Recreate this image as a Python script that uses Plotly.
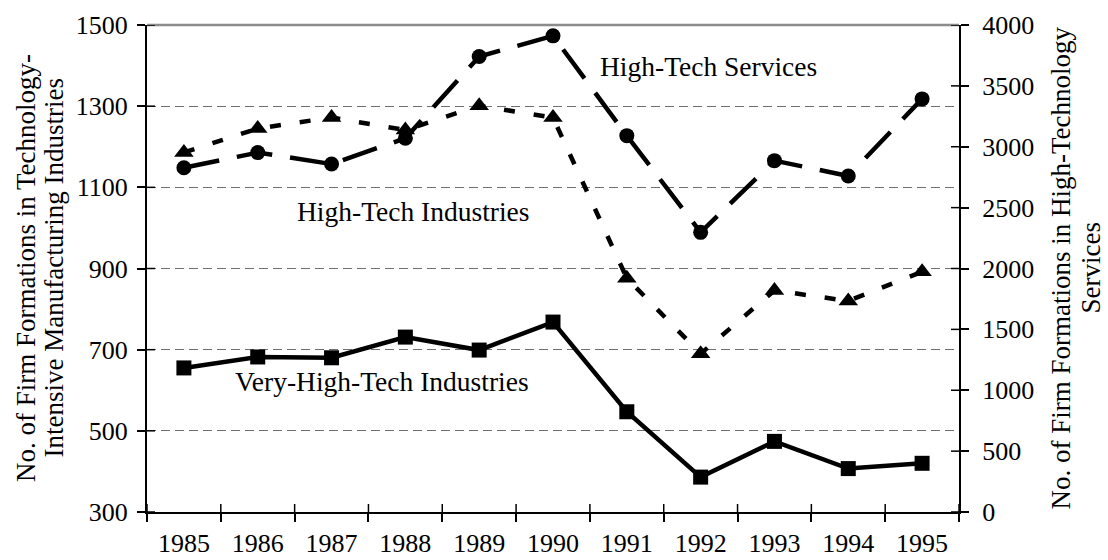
import plotly.graph_objects as go

years = ["1985", "1986", "1987", "1988", "1989", "1990", "1991", "1992", "1993", "1994", "1995"]
very_high_tech = [655, 682, 680, 731, 699, 768, 547, 386, 474, 407, 420]
high_tech_industries = [1186, 1245, 1272, 1241, 1301, 1272, 876, 690, 846, 820, 892]
high_tech_services = [2828, 2952, 2858, 3070, 3741, 3911, 3091, 2297, 2886, 2760, 3393]

left_range = [300, 1500]
left_step = 200
right_range = [0, 4000]
right_step = 500

FONT = "Liberation Serif"
FS = 27.5   # in-plot labels
KFS = 26    # tick labels
TFS = 27    # axis titles
PLOT_W, PLOT_H = 812, 487
TICK = 8

fig = go.Figure()

fig.add_trace(go.Scatter(
    x=years, y=very_high_tech, name="Very-High-Tech Industries",
    mode="lines+markers",
    line=dict(color="black", width=4.5),
    marker=dict(symbol="square", size=15, color="black"),
    yaxis="y", xaxis="x",
))
fig.add_trace(go.Scatter(
    x=years, y=high_tech_industries, name="High-Tech Industries",
    mode="lines+markers",
    line=dict(color="black", width=4.5, dash="11px,19px"),
    marker=dict(symbol="triangle-up", size=17, color="black"),
    yaxis="y", xaxis="x",
))
fig.add_trace(go.Scatter(
    x=years, y=high_tech_services, name="High-Tech Services",
    mode="lines+markers",
    line=dict(color="black", width=4.5, dash="36px,18px"),
    marker=dict(symbol="circle", size=15, color="black"),
    yaxis="y2", xaxis="x",
))

fig.update_layout(
    width=1108, height=560,
    margin=dict(l=147, r=149, t=25, b=48, pad=0, autoexpand=False),
    paper_bgcolor="white", plot_bgcolor="white",
    showlegend=False,
    font=dict(family=FONT, size=FS, color="black"),
    xaxis=dict(
        type="category", categoryorder="array", categoryarray=years,
        range=[-0.5, len(years) - 0.5], automargin=False,
        showline=True, linecolor="black", linewidth=2,
        ticks="outside", ticklen=TICK, tickwidth=1.5, tickcolor="black",
        tickson="boundaries", showgrid=False, zeroline=False,
        ticklabelstandoff=7,
        tickfont=dict(family=FONT, size=KFS, color="black"),
    ),
    yaxis=dict(
        range=left_range, dtick=left_step, tick0=left_range[0], automargin=False,
        showline=True, linecolor="black", linewidth=2,
        ticks="outside", ticklen=TICK, tickwidth=1.5, tickcolor="black",
        showgrid=True, gridcolor="#707070", gridwidth=1, griddash="9px,5px",
        zeroline=False, ticklabelstandoff=4,
        tickfont=dict(family=FONT, size=KFS, color="black"),
    ),
    yaxis2=dict(
        overlaying="y", side="right", anchor="x", automargin=False,
        range=right_range, dtick=right_step, tick0=0,
        showline=True, linecolor="black", linewidth=2,
        ticks="outside", ticklen=TICK, tickwidth=1.5, tickcolor="black",
        showgrid=False, zeroline=False, ticklabelstandoff=8,
        tickfont=dict(family=FONT, size=KFS, color="black"),
    ),
)

# solid grey top border of the plot area
fig.add_shape(type="line", xref="paper", yref="paper", x0=0, x1=1, y0=1, y1=1,
              line=dict(color="#8c8c8c", width=2.5), layer="above")

# inner halves of the crossing tick marks
tick_line = dict(color="black", width=1.5)
for v in range(left_range[0], left_range[1] + 1, left_step):
    fig.add_shape(type="line", xref="paper", yref="y", x0=0, x1=TICK / PLOT_W,
                  y0=v, y1=v, line=tick_line, layer="above")
for v in range(right_range[0], right_range[1] + 1, right_step):
    fig.add_shape(type="line", xref="paper", yref="y2", x0=1 - TICK / PLOT_W, x1=1,
                  y0=v, y1=v, line=tick_line, layer="above")
for i in range(len(years) + 1):
    fig.add_shape(type="line", xref="x", yref="paper", x0=i - 0.5, x1=i - 0.5,
                  y0=0, y1=TICK / PLOT_H, line=tick_line, layer="above")

labels = [
    ("High-Tech Services", 0.692, 0.914),
    ("High-Tech Industries", 0.328, 0.617),
    ("Very-High-Tech Industries", 0.289, 0.268),
]
for txt, xx, yy in labels:
    fig.add_annotation(text=txt, x=xx, y=yy, xref="paper", yref="paper",
                       showarrow=False, xanchor="center", yanchor="middle",
                       font=dict(family=FONT, size=FS, color="black"))

plot_left = 147
titles = [
    ("No. of Firm Formations in Technology-", 25.5),
    ("Intensive Manufacturing Industries", 53),
    ("No. of Firm Formations in High-Technology", 1060),
    ("Services", 1090),
]
for txt, px in titles:
    fig.add_annotation(text=txt, x=(px - plot_left) / PLOT_W, y=0.5,
                       xref="paper", yref="paper", textangle=-90,
                       showarrow=False, xanchor="center", yanchor="middle",
                       font=dict(family=FONT, size=TFS, color="black"))

fig.write_html("out.html",
               config={"displayModeBar": False},
               post_script="document.body.style.margin='0';document.body.style.overflow='hidden';")
